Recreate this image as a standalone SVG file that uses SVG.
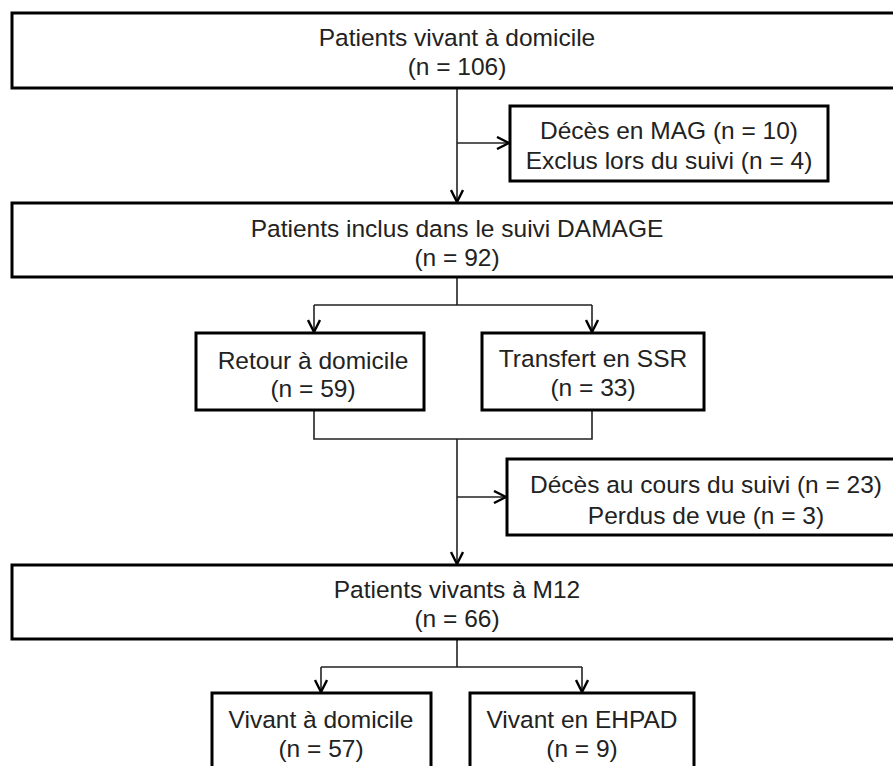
<svg xmlns="http://www.w3.org/2000/svg" width="893" height="766" viewBox="0 0 893 766">
<defs>
<style>
.box{fill:#fff;stroke:#000;stroke-width:3}
.t{font-family:"Liberation Sans",Arial,sans-serif;font-size:24.5px;fill:#222;text-anchor:middle}
.c{fill:none;stroke:#222;stroke-width:1.6}
</style>
<marker id="ah" viewBox="0 0 14 14" refX="13" refY="7" markerWidth="14" markerHeight="14" markerUnits="userSpaceOnUse" orient="auto">
<path d="M1,1 L13,7 L1,13" fill="none" stroke="#000" stroke-width="2.4"/>
</marker>
</defs>
<rect width="893" height="766" fill="#fff"/>
<g id="connectors">
<path class="c" d="M457,88 V202" marker-end="url(#ah)"/>
<path class="c" d="M457,143 H509" marker-end="url(#ah)"/>
<path class="c" d="M457,277 V305 M314,305 H592"/>
<path class="c" d="M314,305 V332" marker-end="url(#ah)"/>
<path class="c" d="M592,305 V332" marker-end="url(#ah)"/>
<path class="c" d="M314,410 V439 H592 V410"/>
<path class="c" d="M457,439 V564" marker-end="url(#ah)"/>
<path class="c" d="M457,497 H506" marker-end="url(#ah)"/>
<path class="c" d="M457,640 V667 M321,667 H582"/>
<path class="c" d="M321,667 V692" marker-end="url(#ah)"/>
<path class="c" d="M582,667 V692" marker-end="url(#ah)"/>
</g>
<g id="n1">
<rect class="box" x="12" y="13" width="893" height="75"/>
<text class="t" x="457" y="46">Patients vivant à domicile</text>
<text class="t" x="457" y="75">(n = 106)</text>
</g>
<g id="n2">
<rect class="box" x="510" y="106" width="318" height="75"/>
<text class="t" x="669" y="139">Décès en MAG (n = 10)</text>
<text class="t" x="669" y="169">Exclus lors du suivi (n = 4)</text>
</g>
<g id="n3">
<rect class="box" x="12" y="203" width="893" height="74"/>
<text class="t" x="457" y="237">Patients inclus dans le suivi DAMAGE</text>
<text class="t" x="457" y="266">(n = 92)</text>
</g>
<g id="n4">
<rect class="box" x="196" y="333" width="228" height="77"/>
<text class="t" x="313" y="369">Retour à domicile</text>
<text class="t" x="313" y="397">(n = 59)</text>
</g>
<g id="n5">
<rect class="box" x="482" y="333" width="222" height="77"/>
<text class="t" x="593" y="367">Transfert en SSR</text>
<text class="t" x="593" y="396">(n = 33)</text>
</g>
<g id="n6">
<rect class="box" x="507" y="459" width="400" height="76"/>
<text class="t" x="706" y="493">Décès au cours du suivi (n = 23)</text>
<text class="t" x="706" y="524">Perdus de vue (n = 3)</text>
</g>
<g id="n7">
<rect class="box" x="12" y="565" width="893" height="74"/>
<text class="t" x="457" y="598">Patients vivants à M12</text>
<text class="t" x="457" y="627">(n = 66)</text>
</g>
<g id="n8">
<rect class="box" x="212" y="693" width="219" height="85"/>
<text class="t" x="321" y="728">Vivant à domicile</text>
<text class="t" x="321" y="757">(n = 57)</text>
</g>
<g id="n9">
<rect class="box" x="470" y="693" width="224" height="85"/>
<text class="t" x="582" y="728">Vivant en EHPAD</text>
<text class="t" x="582" y="757">(n = 9)</text>
</g>
</svg>
